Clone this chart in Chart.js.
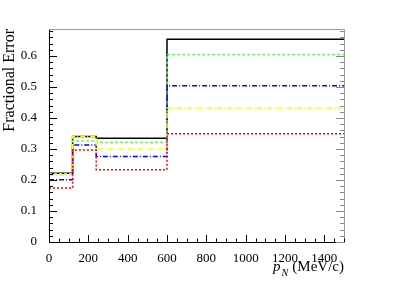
<!DOCTYPE html>
<html>
<head>
<meta charset="utf-8">
<script src="https://cdn.jsdelivr.net/npm/chart.js@4/dist/chart.umd.min.js"></script>
<style>
  body { margin: 0; background: #fff; }
  canvas { display: block; }
</style>
</head>
<body>
<canvas id="chart" width="407" height="285"></canvas>
<script>
// bin edges in p_N (MeV/c) and fractional error per bin
const binEdges = [0, 120, 240, 600, 1500];
const blackErr = [0.222, 0.340, 0.335, 0.654];
const greenErr = [0.220, 0.326, 0.322, 0.605];
const blueErr = [0.201, 0.313, 0.276, 0.504];
const yellowErr = [0.215, 0.340, 0.300, 0.432];
const redErr = [0.174, 0.297, 0.233, 0.349];
const xTicks = [0, 200, 400, 600, 800, 1000, 1200, 1400];
const yTicks = [0, 0.1, 0.2, 0.3, 0.4, 0.5, 0.6];

function stepPoints(vals) {
  const pts = binEdges.slice(0, -1).map((x, i) => ({ x: x, y: vals[i] }));
  pts.push({ x: binEdges[binEdges.length - 1], y: vals[vals.length - 1] });
  return pts;
}

function line(vals, color, dash) {
  return {
    data: stepPoints(vals),
    borderColor: color,
    borderWidth: 1.5,
    borderDash: dash,
    stepped: 'before',
    pointRadius: 0,
    fill: false
  };
}

const serif = '"Liberation Serif", "DejaVu Serif", serif';

// ROOT-like frame with inward ticks, and the axis titles
const framePlugin = {
  id: 'frame',
  afterDraw(chart) {
    const ctx = chart.ctx;
    const a = chart.chartArea;
    const xs = chart.scales.x, ys = chart.scales.y;
    ctx.save();
    ctx.strokeStyle = '#000';
    ctx.lineWidth = 1;
    ctx.beginPath();
    ctx.moveTo(a.left + 0.5, a.top + 0.5);
    ctx.lineTo(a.left + 0.5, a.bottom + 0.5);
    ctx.lineTo(a.right + 0.5, a.bottom + 0.5);
    ctx.stroke();
    ctx.strokeStyle = '#999';
    ctx.beginPath();
    ctx.moveTo(a.left + 0.5, a.top + 0.5);
    ctx.lineTo(a.right + 0.5, a.top + 0.5);
    ctx.lineTo(a.right + 0.5, a.bottom + 0.5);
    ctx.stroke();

    ctx.strokeStyle = '#000';
    ctx.beginPath();
    for (let v = 0; v <= 1500; v += 50) {
      const px = Math.round(xs.getPixelForValue(v)) + 0.5;
      const len = v % 200 === 0 ? 7 : 3.5;
      ctx.moveTo(px, a.bottom);
      ctx.lineTo(px, a.bottom - len);
    }
    for (let k = 0; k <= 34; k++) {
      const py = Math.round(ys.getPixelForValue(k * 0.02)) + 0.5;
      const len = k % 5 === 0 ? 8 : 4;
      ctx.moveTo(a.left, py);
      ctx.lineTo(a.left + len, py);
    }
    ctx.stroke();
    ctx.strokeStyle = '#888';
    ctx.beginPath();
    for (let k = 0; k <= 34; k++) {
      const py = Math.round(ys.getPixelForValue(k * 0.02)) + 0.5;
      const len = k % 5 === 0 ? 8 : 4;
      ctx.moveTo(a.right, py);
      ctx.lineTo(a.right - len, py);
    }
    ctx.stroke();

    ctx.fillStyle = '#000';
    ctx.textBaseline = 'alphabetic';

    // y title, rotated, top aligned with the frame
    ctx.save();
    ctx.translate(14, a.top);
    ctx.rotate(-Math.PI / 2);
    ctx.font = '16px ' + serif;
    ctx.textAlign = 'right';
    ctx.fillText('Fractional Error', 0, 0);
    ctx.restore();

    // x title: p_N (MeV/c), right aligned
    const base = 271;
    ctx.font = '15px ' + serif;
    const rest = ' (MeV/c)';
    const wRest = ctx.measureText(rest).width;
    ctx.font = '10px ' + serif;
    const wN = ctx.measureText('N').width;
    ctx.font = 'italic 15px ' + serif;
    const wP = ctx.measureText('p').width;
    const x0 = a.right - wRest - wN - wP - 1;
    ctx.fillText('p', x0, base);
    ctx.font = 'italic 10px ' + serif;
    ctx.fillText('N', x0 + wP + 1, base + 5);
    ctx.font = '15px ' + serif;
    ctx.fillText(rest, x0 + wP + wN + 1, base);
    ctx.restore();
  }
};

new Chart(document.getElementById('chart'), {
  type: 'line',
  data: {
    datasets: [
      line(redErr, '#ff0000', [2, 2]),
      line(yellowErr, '#ffff00', [5, 2, 1, 2]),
      line(blueErr, '#0000ff', [5, 2, 1, 2]),
      line(greenErr, '#66ff66', [3, 2]),
      line(blackErr, '#000000', [])
    ]
  },
  options: {
    responsive: false,
    animation: false,
    layout: { padding: { top: 29, right: 63, left: 0, bottom: 0 } },
    plugins: { legend: { display: false }, tooltip: { enabled: false } },
    scales: {
      x: {
        type: 'linear',
        min: 0,
        max: 1500,
        afterFit(s) { s.height = 43; },
        afterBuildTicks(s) { s.ticks = xTicks.map(v => ({ value: v })); },
        grid: { display: false },
        border: { display: false },
        ticks: {
          color: '#000',
          font: { family: serif, size: 13 },
          padding: 1,
          maxRotation: 0,
          autoSkip: false,
          callback: v => String(v)
        }
      },
      y: {
        min: 0,
        max: 0.687,
        afterFit(s) { s.width = 49; },
        afterBuildTicks(s) { s.ticks = yTicks.map(v => ({ value: v })); },
        grid: { display: false },
        border: { display: false },
        ticks: {
          color: '#000',
          font: { family: serif, size: 13 },
          padding: 4,
          callback: v => (v === 0 ? '0' : v.toFixed(1))
        }
      }
    }
  },
  plugins: [framePlugin]
});
</script>
</body>
</html>
